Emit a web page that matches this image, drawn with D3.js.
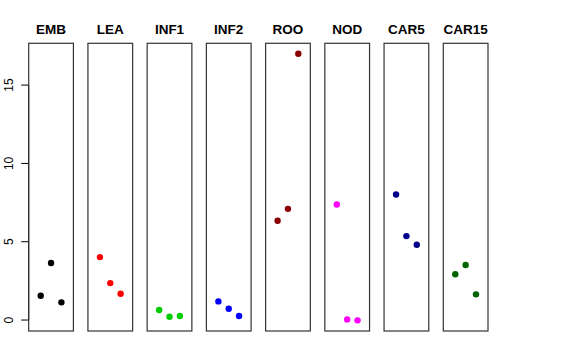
<!DOCTYPE html>
<html><head><meta charset="utf-8">
<script src="https://cdn.jsdelivr.net/npm/d3@7"></script>
<style>body{margin:0;background:#fff}svg{display:block}</style>
</head><body>
<script>
const categories = ["EMB","LEA","INF1","INF2","ROO","NOD","CAR5","CAR15"];
const colors = ["#000000","#ff0000","#00cd00","#0000ff","#8b0000","#ff00ff","#00008b","#006400"];
const values = [
  [1.55, 3.64, 1.13],
  [4.02, 2.36, 1.68],
  [0.64, 0.21, 0.26],
  [1.19, 0.72, 0.26],
  [6.34, 7.10, 17.00],
  [7.38, 0.04, -0.02],
  [8.02, 5.36, 4.81],
  [2.92, 3.51, 1.64]
];
const yTicks = [0, 5, 10, 15];

const W = 576, H = 360;
const svg = d3.select("body").append("svg").attr("width", W).attr("height", H);

const band = d3.scaleBand().domain(categories).range([28.7, 488]).paddingInner(0.245).paddingOuter(0);
const y = d3.scaleLinear().domain([-0.70, 17.67]).range([331, 43.3]);
const font = "'Liberation Sans', Arial, Helvetica, sans-serif";

// y axis
const ax = svg.append("g").attr("transform", `translate(${band(categories[0])},0)`);
ax.append("line").attr("x1", 0).attr("x2", 0).attr("y1", y(0)).attr("y2", y(15)).attr("stroke", "#000");
yTicks.forEach(t => {
  ax.append("line").attr("x1", -7.5).attr("x2", 0).attr("y1", y(t)).attr("y2", y(t)).attr("stroke", "#000");
  ax.append("text").attr("transform", `translate(${-15.3},${y(t)}) rotate(-90)`)
    .attr("text-anchor", "middle").attr("font-family", font).attr("font-size", 12).text(t);
});

categories.forEach((c, i) => {
  const x0 = band(c), bw = band.bandwidth();
  const x = d3.scaleLinear().domain([-0.16, 4.16]).range([x0, x0 + bw]);
  const g = svg.append("g");
  g.append("rect").attr("x", x0).attr("y", y.range()[1]).attr("width", bw)
    .attr("height", y.range()[0] - y.range()[1]).attr("fill", "none").attr("stroke", "#333").attr("stroke-width", 1.2);
  g.append("text").attr("x", x0 + bw / 2).attr("y", 34.3).attr("text-anchor", "middle")
    .attr("font-family", font).attr("font-weight", "bold").attr("font-size", 13.5).text(c);
  g.selectAll("circle").data(values[i]).enter().append("circle")
    .attr("cx", (d, j) => x(j + 1)).attr("cy", d => y(d)).attr("r", 3.2).attr("fill", colors[i]);
});
</script>
</body></html>
